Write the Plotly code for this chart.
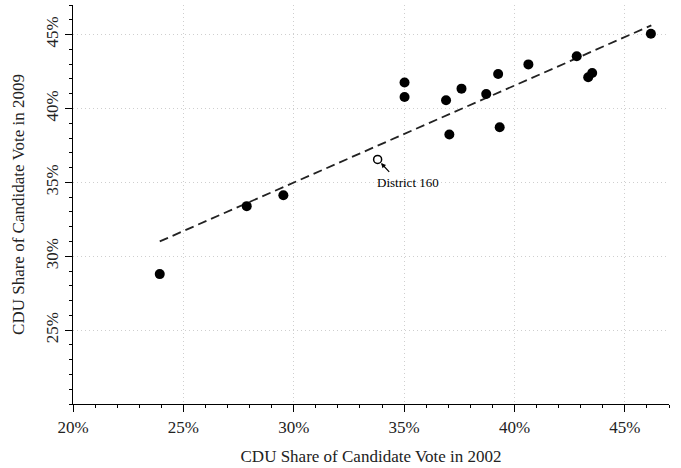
import plotly.graph_objects as go

# Data (percent)
cdu_2002 = [23.93, 27.87, 29.53, 35.02, 35.02, 36.9, 37.05, 37.6, 38.72, 39.26, 39.33, 40.63, 42.82, 43.34, 43.52, 46.18]
cdu_2009 = [28.79, 33.39, 34.13, 41.75, 40.78, 40.55, 38.24, 41.34, 40.98, 42.33, 38.73, 42.98, 43.53, 42.11, 42.40, 45.06]
district_label = "District 160"
district_x = [33.8]
district_y = [36.55]
fit_x = [23.93, 46.2]
fit_y = [31.0, 45.62]
x_tick_vals = [20, 25, 30, 35, 40, 45]
x_tick_text = ["20%", "25%", "30%", "35%", "40%", "45%"]
y_tick_vals = [25, 30, 35, 40, 45]
y_tick_text = ["25%", "30%", "35%", "40%", "45%"]

font_family = "Liberation Serif, Times New Roman, serif"

fig = go.Figure()
fig.add_trace(go.Scatter(
    x=fit_x, y=fit_y, mode="lines",
    line=dict(color="#222", width=1.8, dash="9px,5px"),
    hoverinfo="skip", showlegend=False))
fig.add_trace(go.Scatter(
    x=cdu_2002, y=cdu_2009, mode="markers",
    marker=dict(color="black", size=10, line=dict(width=0)),
    showlegend=False))
fig.add_trace(go.Scatter(
    x=district_x, y=district_y, mode="markers",
    marker=dict(color="white", size=8, line=dict(color="black", width=1.5)),
    showlegend=False))

# Arrow and label
fig.add_annotation(x=district_x[0], y=district_y[0], text="", showarrow=True,
                   ax=13, ay=14, arrowhead=2, arrowsize=0.8, arrowwidth=1.2,
                   arrowcolor="black", standoff=5)
fig.add_annotation(x=35.19, y=34.96, text=district_label, showarrow=False,
                   font=dict(family=font_family, size=13, color="black"))

axis_common = dict(
    showline=True, linecolor="black", linewidth=1.2,
    ticks="outside", ticklen=7, tickwidth=1, tickcolor="black",
    showgrid=True, gridcolor="#cfcfcf", gridwidth=1, griddash="1px,3px",
    zeroline=False, range=[20, 47],
    tickfont=dict(family=font_family, size=17, color="#222"),
    minor=dict(dtick=1, ticks="outside", ticklen=3, tickcolor="black", showgrid=False),
)

fig.update_layout(
    width=681, height=468,
    margin=dict(l=73, r=12, t=5, b=64),
    plot_bgcolor="white", paper_bgcolor="white",
    font=dict(family=font_family, size=17, color="#222"),
    xaxis=dict(**axis_common, tickvals=x_tick_vals, ticktext=x_tick_text,
               title=dict(text="CDU Share of Candidate Vote in 2002",
                          font=dict(family=font_family, size=17), standoff=14)),
    yaxis=dict(**axis_common, tickvals=y_tick_vals, ticktext=y_tick_text,
               tickangle=-90,
               title=dict(text="CDU Share of Candidate Vote in 2009",
                          font=dict(family=font_family, size=17), standoff=14)),
)

fig.write_html("out.html")
